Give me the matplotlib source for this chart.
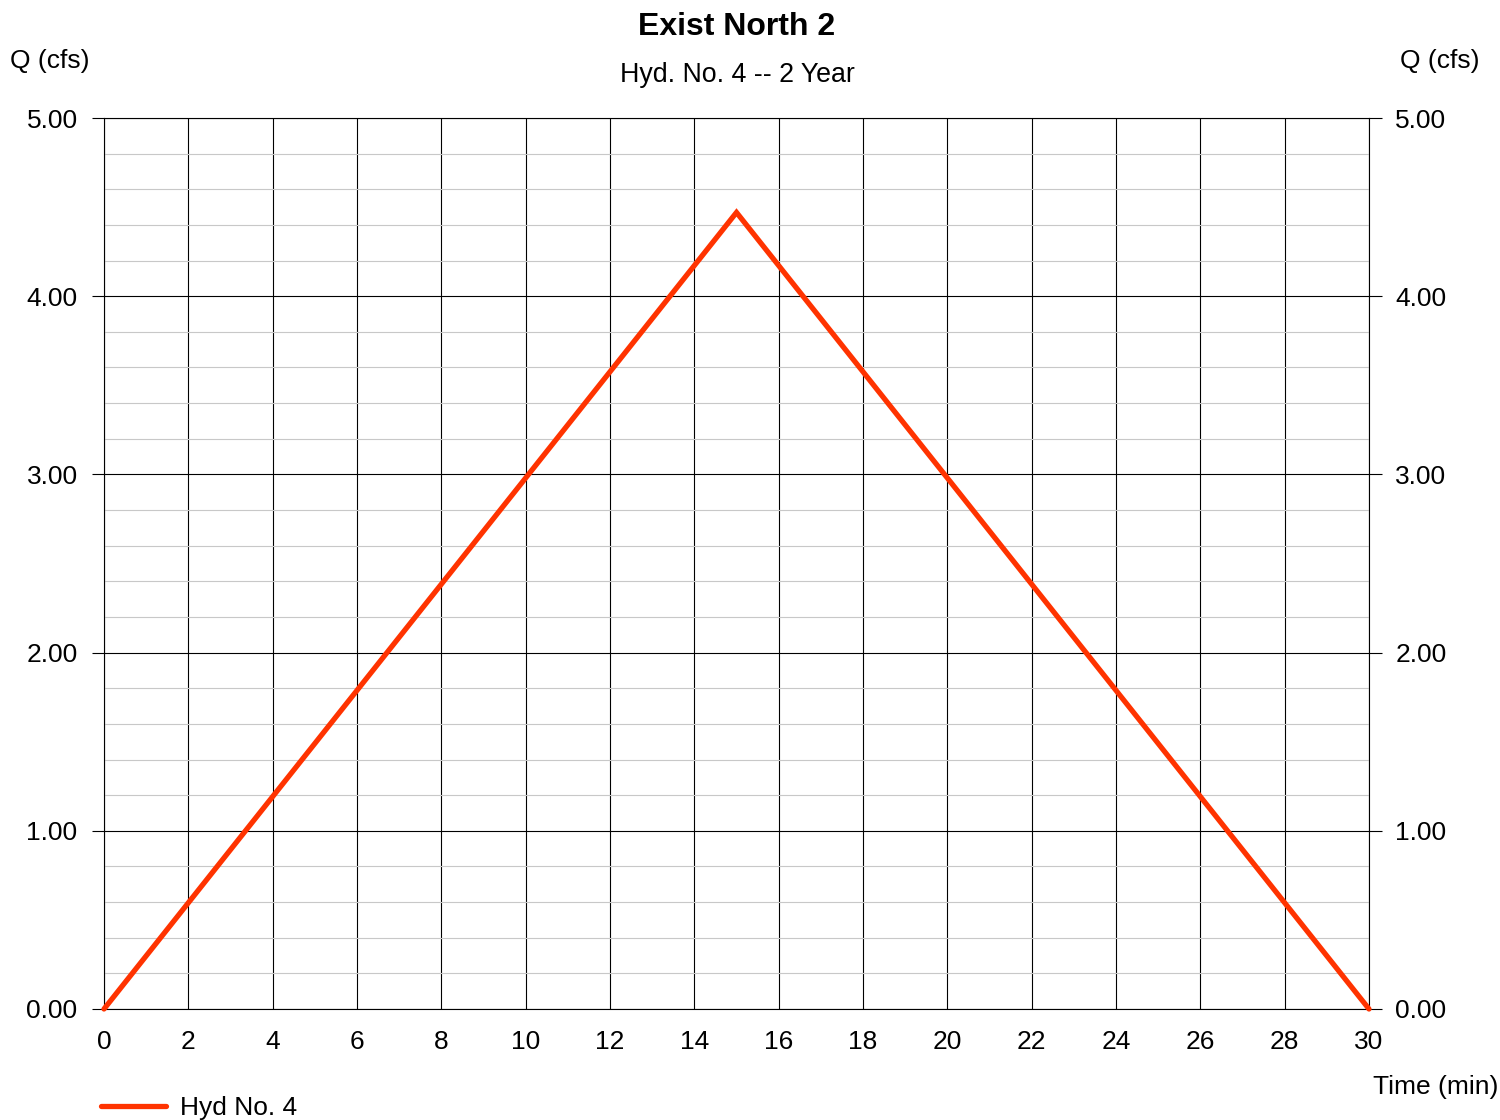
import numpy as np
import matplotlib.pyplot as plt
from matplotlib.ticker import MultipleLocator, FormatStrFormatter

# 水文曲線データ
time_min = [0, 15, 30]
flow_cfs = [0.0, 4.47, 0.0]

TITLE = "Exist North 2"
SUBTITLE = "Hyd. No. 4 -- 2 Year"
SERIES_LABEL = "Hyd No. 4"
LINE_COLOR = "#ff3300"

plt.rcParams["font.family"] = ["Liberation Sans", "DejaVu Sans"]


def main():
    fig = plt.figure(figsize=(15, 11.2), dpi=100)
    ax = fig.add_axes([104 / 1500, 1 - 1009 / 1120, (1369 - 104) / 1500, (1009 - 118) / 1120])

    ax.plot(time_min, flow_cfs, color=LINE_COLOR, lw=3.8, solid_joinstyle="miter",
            solid_capstyle="round", zorder=5, clip_on=False)

    ax.set_xlim(0, 30)
    ax.set_ylim(0, 5)
    ax.xaxis.set_major_locator(MultipleLocator(2))
    ax.yaxis.set_major_locator(MultipleLocator(1))
    ax.yaxis.set_minor_locator(MultipleLocator(0.2))
    ax.yaxis.set_major_formatter(FormatStrFormatter("%.2f"))

    # グリッド
    ax.grid(which="major", color="black", lw=0.8)
    ax.grid(which="minor", axis="y", color="#c8c8c8", lw=0.8)
    ax.set_axisbelow(True)
    for s in ax.spines.values():
        s.set_color("black")
        s.set_linewidth(0.8)

    ax.tick_params(axis="y", which="major", left=True, right=True, labelleft=True,
                   labelright=True, length=9, width=0.8, pad=10, labelsize=19)
    ax.tick_params(axis="y", which="minor", left=False, right=False)
    ax.tick_params(axis="x", length=0, pad=15, labelsize=19)

    # テキスト
    fig.text(737 / 1500, 1 - 27 / 1120, TITLE, ha="center", va="center",
             fontsize=23, fontweight="bold")
    fig.text(737 / 1500, 1 - 75 / 1120, SUBTITLE, ha="center", va="center", fontsize=19.3)
    fig.text(10 / 1500, 1 - 61 / 1120, "Q (cfs)", ha="left", va="center", fontsize=19)
    fig.text(1480 / 1500, 1 - 61 / 1120, "Q (cfs)", ha="right", va="center", fontsize=19)
    fig.text(1498 / 1500, 1 - 1087 / 1120, "Time (min)", ha="right", va="center", fontsize=19)

    # 凡例
    fig.legend(handles=ax.get_lines(), labels=[SERIES_LABEL], loc="center left",
               bbox_to_anchor=(101 / 1500, 1 - 1108 / 1120), frameon=False,
               fontsize=19, handlelength=2.45, handletextpad=0.55, borderaxespad=0,
               borderpad=0)

    fig.savefig("out.png", dpi=100)


if __name__ == "__main__":
    main()
